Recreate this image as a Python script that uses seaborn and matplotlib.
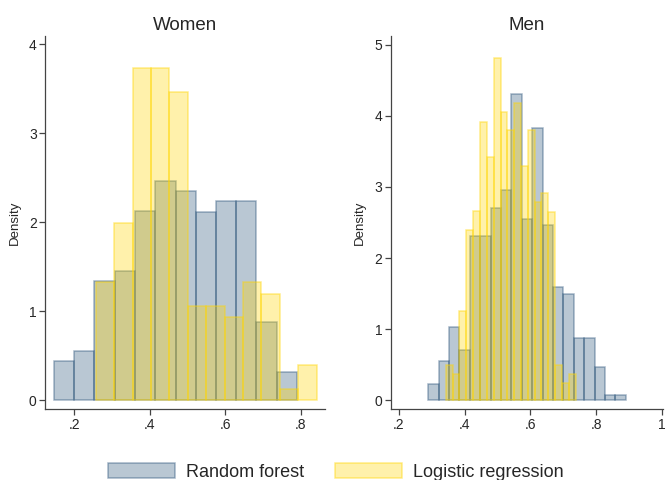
import numpy as np
import pandas as pd
import matplotlib
matplotlib.use("Agg")
import matplotlib.pyplot as plt
from matplotlib.patches import Patch
import seaborn as sns

# Bin edges and densities
women_rf_edges = [0.146, 0.200, 0.253, 0.307, 0.360, 0.414, 0.468, 0.521, 0.575, 0.628, 0.682, 0.736, 0.789]
women_rf_dens = [0.44, 0.55, 1.34, 1.45, 2.13, 2.46, 2.35, 2.12, 2.24, 2.24, 0.88, 0.32]

women_lr_edges = [0.256, 0.305, 0.354, 0.403, 0.451, 0.500, 0.549, 0.598, 0.647, 0.695, 0.744, 0.793, 0.842]
women_lr_dens = [1.33, 1.99, 3.73, 3.73, 3.46, 1.06, 1.06, 0.93, 1.33, 1.19, 0.13, 0.40]

men_rf_edges = [0.289, 0.321, 0.352, 0.384, 0.415, 0.447, 0.479, 0.510, 0.542, 0.573,
                0.605, 0.637, 0.668, 0.700, 0.731, 0.763, 0.795, 0.826, 0.858, 0.889]
men_rf_dens = [0.23, 0.55, 1.03, 0.70, 2.31, 2.31, 2.71, 2.95, 4.31, 2.55,
               3.83, 2.47, 1.59, 1.50, 0.87, 0.87, 0.47, 0.07, 0.07]

men_lr_edges = [0.343, 0.364, 0.384, 0.405, 0.426, 0.447, 0.467, 0.488, 0.509, 0.530,
                0.550, 0.571, 0.592, 0.613, 0.633, 0.654, 0.675, 0.696, 0.716, 0.737]
men_lr_dens = [0.50, 0.375, 1.26, 2.40, 2.66, 3.92, 3.42, 4.81, 4.05, 3.80,
               4.18, 3.30, 3.80, 2.79, 2.91, 2.65, 0.50, 0.24, 0.375]

panel_titles = ["Women", "Men"]
legend_labels = ["Random forest", "Logistic regression"]

navy = (26 / 255, 71 / 255, 111 / 255)
gold = (1.0, 0.84, 0.0)
rf_face, rf_edge = navy + (0.30,), navy + (0.40,)
lr_face, lr_edge = gold + (0.33,), gold + (0.45,)

sns.set_style("ticks")
plt.rcParams["font.family"] = ["Liberation Sans", "DejaVu Sans"]

fig = plt.figure(figsize=(6.65, 4.8), dpi=100)
ax1 = fig.add_axes([0.0677, 0.147, 0.421, 0.779])
ax2 = fig.add_axes([0.5875, 0.147, 0.4095, 0.779])


def draw_hist(ax, edges, dens, face, edge):
    e = np.asarray(edges)
    df = pd.DataFrame({"x": (e[:-1] + e[1:]) / 2, "w": dens})
    sns.histplot(data=df, x="x", weights="w", bins=list(edges), stat="count", ax=ax,
                 facecolor=face, edgecolor=edge, linewidth=1.1)


draw_hist(ax1, women_rf_edges, women_rf_dens, rf_face, rf_edge)
draw_hist(ax1, women_lr_edges, women_lr_dens, lr_face, lr_edge)
draw_hist(ax2, men_rf_edges, men_rf_dens, rf_face, rf_edge)
draw_hist(ax2, men_lr_edges, men_lr_dens, lr_face, lr_edge)

ax1.set_xlim(0.122, 0.864)
ax1.set_ylim(-0.105, 4.1)
ax1.set_xticks([0.2, 0.4, 0.6, 0.8])
ax1.set_xticklabels([".2", ".4", ".6", ".8"])
ax1.set_yticks([0, 1, 2, 3, 4])

ax2.set_xlim(0.175, 1.003)
ax2.set_ylim(-0.13, 5.13)
ax2.set_xticks([0.2, 0.4, 0.6, 0.8, 1.0])
ax2.set_xticklabels([".2", ".4", ".6", ".8", "1"])
ax2.set_yticks([0, 1, 2, 3, 4, 5])

for ax, title in zip([ax1, ax2], panel_titles):
    ax.set_title(title, fontsize=13.5, pad=4)
    ax.set_ylabel("Density", fontsize=9.5, labelpad=6)
    ax.set_xlabel("")
    ax.tick_params(axis="both", labelsize=10, length=4, width=0.9,
                   color="#444444", pad=2)
    for s in ["left", "bottom"]:
        ax.spines[s].set_color("#444444")
        ax.spines[s].set_linewidth(0.9)
    sns.despine(ax=ax)

handles = [Patch(facecolor=rf_face, edgecolor=rf_edge, linewidth=1.1),
           Patch(facecolor=lr_face, edgecolor=lr_edge, linewidth=1.1)]
fig.legend(handles, legend_labels, loc="center", bbox_to_anchor=(0.505, 0.017),
           ncol=2, frameon=False, fontsize=13, handlelength=3.7, handleheight=0.95,
           handletextpad=0.6, columnspacing=1.75)

fig.savefig("out.png", dpi=100)
